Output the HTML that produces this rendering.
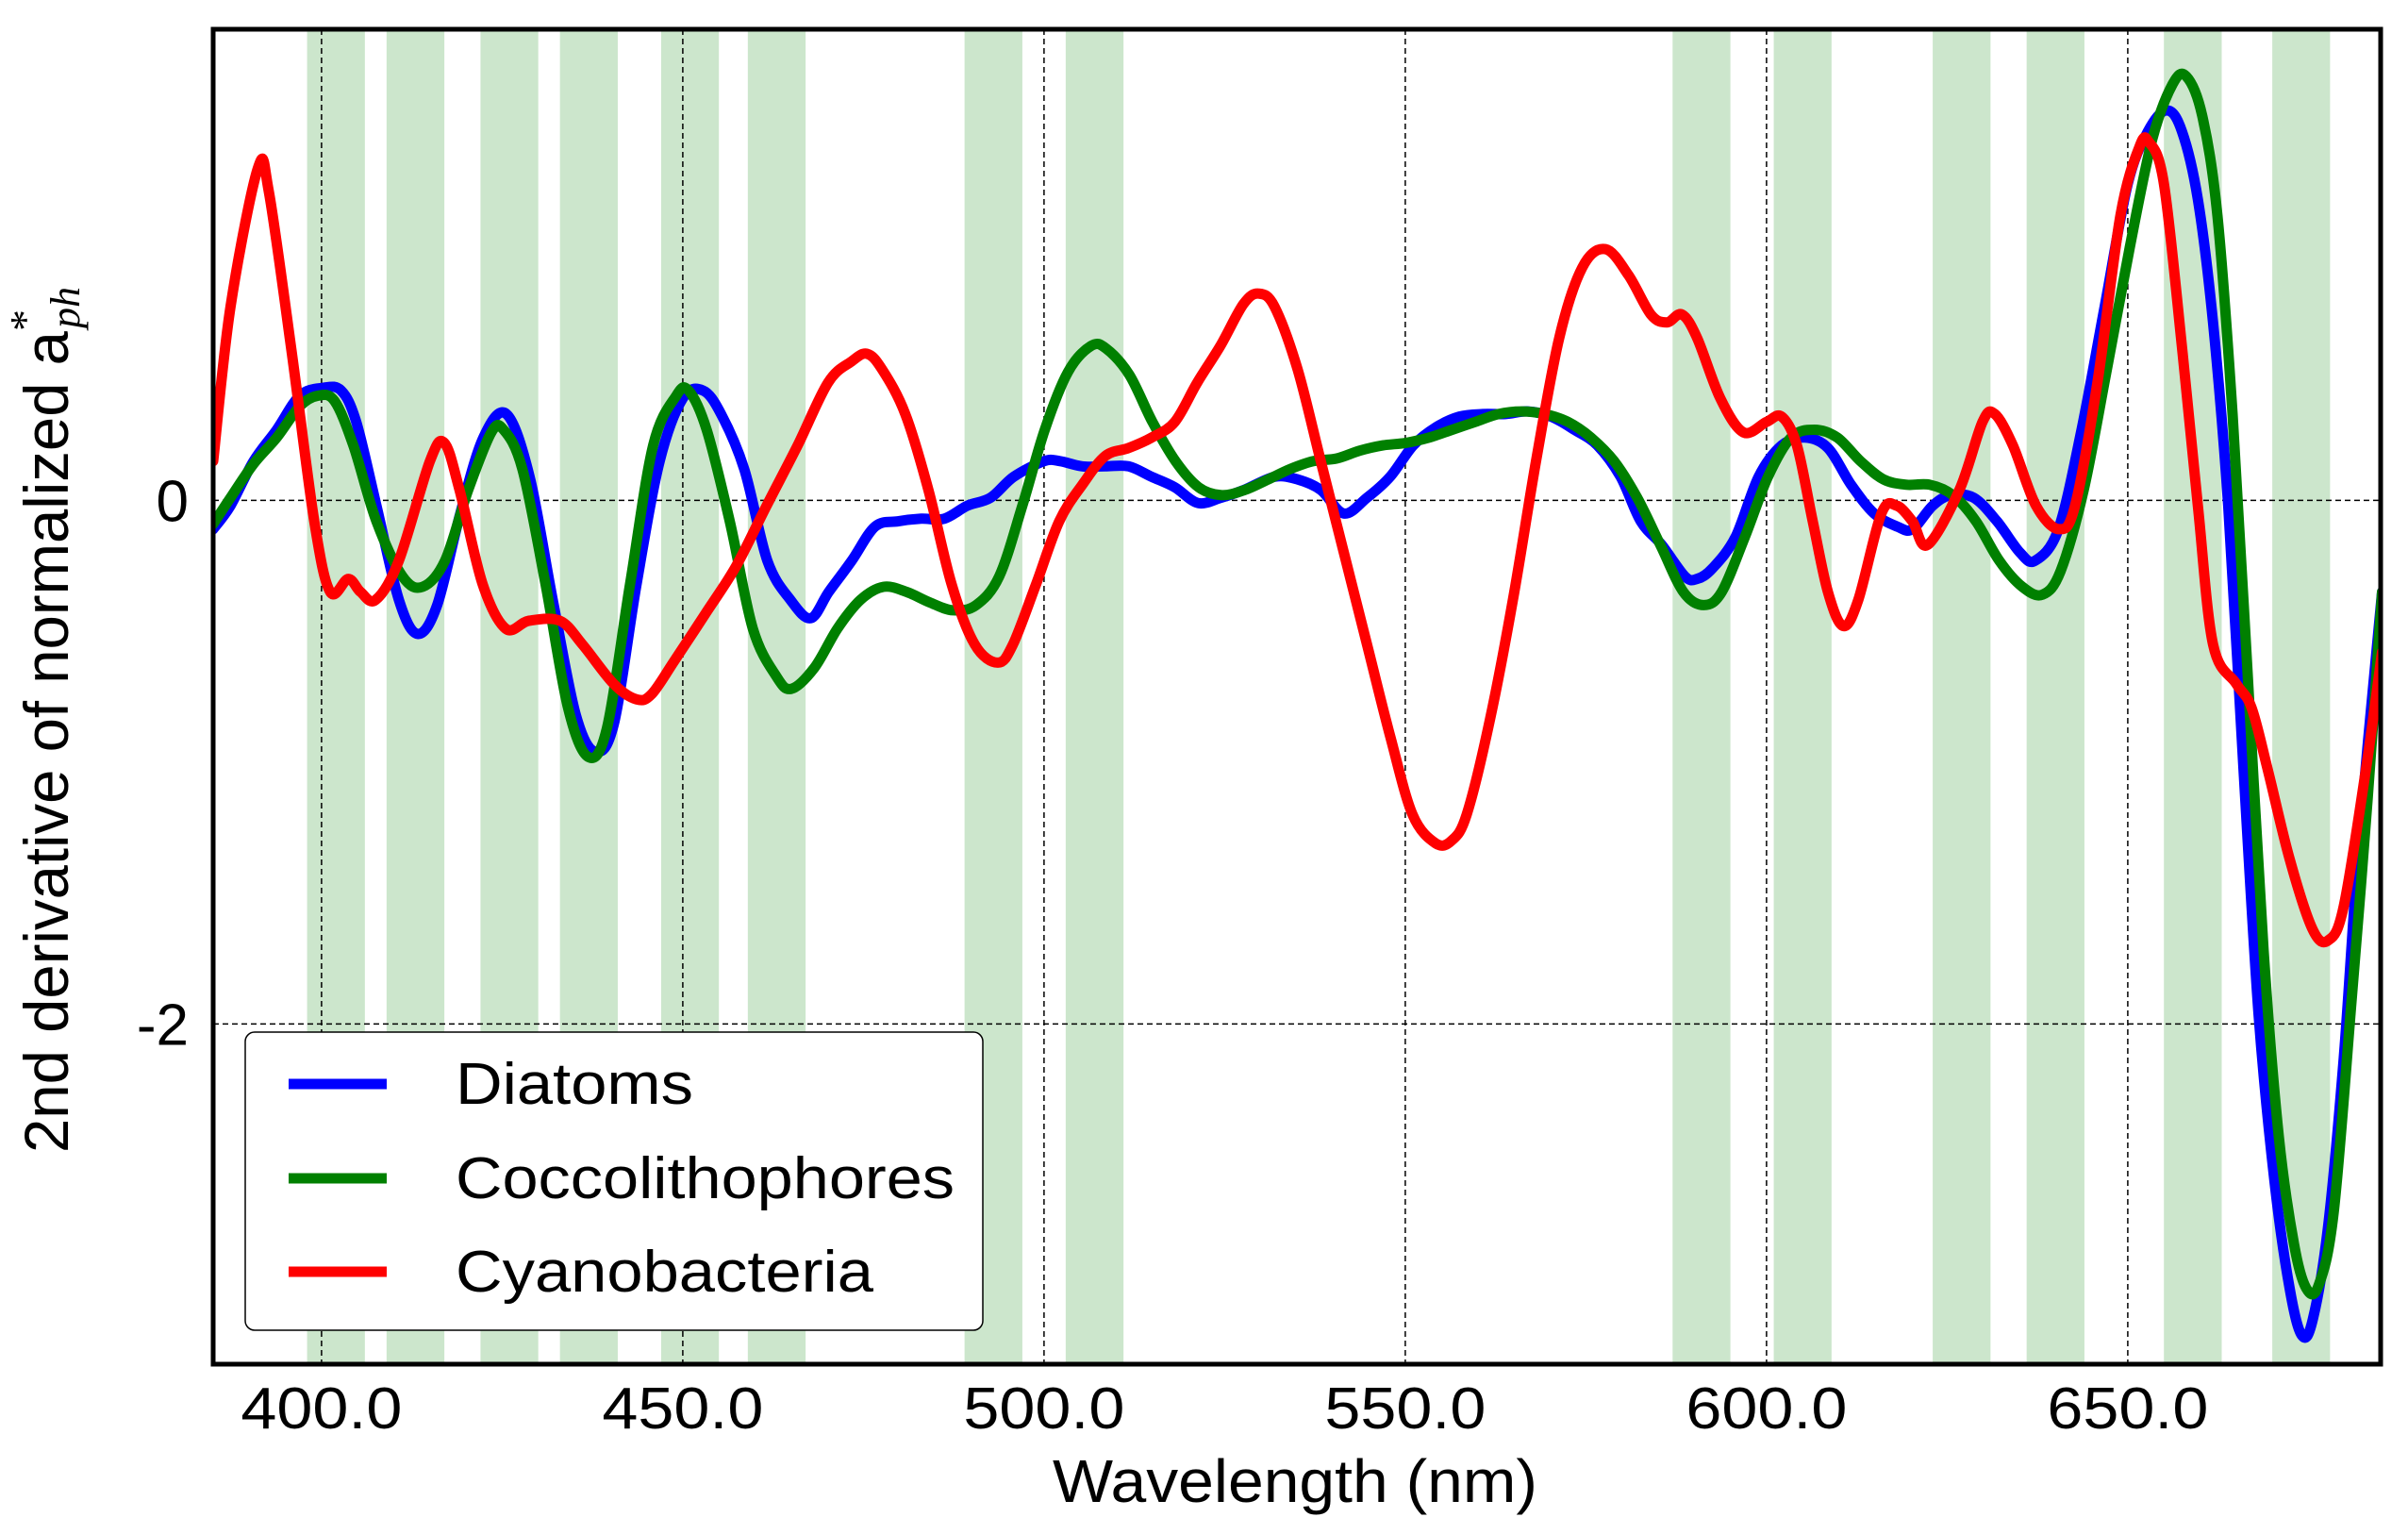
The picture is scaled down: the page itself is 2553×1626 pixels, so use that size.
<!DOCTYPE html>
<html><head><meta charset="utf-8"><style>
html,body{margin:0;padding:0;background:#fff;}
svg{display:block;font-family:"Liberation Sans",sans-serif;}
</style></head><body>
<svg id="chart" width="2553" height="1626" viewBox="0 0 2553 1626" xmlns="http://www.w3.org/2000/svg">
<defs><clipPath id="plotclip"><rect x="226" y="31" width="2298" height="1415"/></clipPath></defs>
<g id="bands" clip-path="url(#plotclip)"></g>
<g id="grid"></g>
<g id="lines" clip-path="url(#plotclip)"></g>
<rect x="226" y="31" width="2298" height="1415" fill="none" stroke="#000" stroke-width="5"/>
<g id="ticks"></g>
<text x="1373" y="1592" font-size="64" text-anchor="middle" textLength="514" lengthAdjust="spacingAndGlyphs">Wavelength (nm)</text>
<text transform="translate(72,1222) rotate(-90)" font-size="66"><tspan textLength="871" lengthAdjust="spacingAndGlyphs">2nd derivative of normalized a</tspan><tspan font-family="Liberation Serif,serif" font-size="46" dy="-30">*</tspan><tspan font-family="Liberation Serif,serif" font-style="italic" font-size="44" dy="42" dx="-20">ph</tspan></text>
<g>
<rect x="260" y="1094" width="782" height="316" rx="10" fill="#fff" stroke="#000" stroke-width="1.5"/>
<line x1="306" y1="1149" x2="410" y2="1149" stroke="#0000ff" stroke-width="11"/>
<text x="483" y="1170" font-size="62" textLength="252" lengthAdjust="spacingAndGlyphs">Diatoms</text>
<line x1="306" y1="1249" x2="410" y2="1249" stroke="#008000" stroke-width="11"/>
<text x="483" y="1270" font-size="62" textLength="529" lengthAdjust="spacingAndGlyphs">Coccolithophores</text>
<line x1="306" y1="1348" x2="410" y2="1348" stroke="#ff0000" stroke-width="11"/>
<text x="483" y="1369" font-size="62" textLength="443" lengthAdjust="spacingAndGlyphs">Cyanobacteria</text>
</g>
</svg>
<script>
const xTicks = [400, 450, 500, 550, 600, 650];
const xTickLabels = ["400.0", "450.0", "500.0", "550.0", "600.0", "650.0"];
const yTicks = [0, -2];
const yTickLabels = ["0", "-2"];
const bandStarts = [377, 398, 409, 422, 433, 447, 459, 489, 503, 587, 601, 623, 636, 655, 670];
const bandWidth = 8;
const redX = [385,387.4,391.2,392.7,395.9,399,401.2,403.7,405.4,407.5,410.7,415,417,419.1,422.3,425.5,428.7,433,436.1,440.4,443.6,445.7,448.9,453.2,457.4,461.6,465.9,470.1,473.3,475.5,477.6,480.8,484,487.2,490.4,493.6,495.7,498.9,502.1,505.3,508.5,511.7,514.9,518.1,521.2,524.4,527.6,529.7,531.9,535.1,538.3,541.5,544.7,547.9,551,554.2,556.4,558.5,561.7,564.9,568.1,571.3,574.5,577.7,580.9,584,586.2,588.3,590.4,593.6,596.8,600,602.1,604.2,606.4,608.5,610.6,612.7,615.9,618,620.2,622.3,626.7,629.9,631.6,634.1,637.3,640.5,642.7,645.8,649,651.6,652.9,655,657.6,659.7,661.8,665,667.1,669.3,672.4,675.6,677.8,679.9,683,685.2];
const redY = [0.15,0.74,1.27,1.18,0.56,-0.08,-0.35,-0.30,-0.35,-0.38,-0.23,0.15,0.22,0.04,-0.32,-0.49,-0.46,-0.46,-0.55,-0.70,-0.76,-0.74,-0.61,-0.43,-0.25,-0.02,0.21,0.45,0.53,0.56,0.50,0.33,0.04,-0.32,-0.55,-0.62,-0.55,-0.32,-0.08,0.06,0.17,0.20,0.24,0.30,0.45,0.59,0.75,0.79,0.74,0.50,0.15,-0.20,-0.55,-0.90,-1.20,-1.31,-1.30,-1.20,-0.84,-0.38,0.15,0.62,0.89,0.96,0.86,0.71,0.68,0.71,0.62,0.39,0.26,0.30,0.32,0.21,-0.08,-0.35,-0.48,-0.38,-0.05,-0.02,-0.08,-0.17,0.04,0.30,0.33,0.21,-0.02,-0.11,-0.02,0.45,1.09,1.35,1.37,1.21,0.56,-0.02,-0.55,-0.70,-0.79,-1.02,-1.37,-1.64,-1.68,-1.55,-1.02,-0.58];
const blueX = [385,387.4,390.6,393.8,397,400.2,402.7,404.8,407.6,410.7,413.3,416,419.2,422.4,425.6,428.8,432,435.2,437.9,440.5,443.6,446.8,450,452.8,455.3,458.5,461.7,464.9,467.7,470.2,473.4,476.6,479.8,483,486.2,489.4,492.6,495.8,500,502.2,505.3,508.5,511.7,514.9,518.1,521.3,524.5,527.7,531.9,535.1,538.3,541.5,544.7,547.9,551.1,554.3,557.5,560.7,563.9,567,570.2,573.4,576.6,579.8,582.6,585.5,588.7,590.4,592.5,595.7,598.9,602.1,605.3,608.5,611.7,614.9,618.1,620.2,623,625.5,628.7,631.9,635.1,637.2,640.4,643.6,646.8,650,652.8,655.4,657.5,659.7,661.8,663.9,666,668.1,670.3,672.4,674.1,675.6,677.7,679.9,682,685.2];
const blueY = [-0.11,-0.02,0.15,0.27,0.40,0.43,0.42,0.30,-0.02,-0.38,-0.51,-0.40,-0.05,0.24,0.33,0.09,-0.38,-0.82,-0.96,-0.85,-0.32,0.15,0.39,0.42,0.33,0.12,-0.23,-0.38,-0.45,-0.35,-0.23,-0.10,-0.08,-0.07,-0.07,-0.02,0.01,0.09,0.15,0.15,0.13,0.13,0.13,0.09,0.05,-0.01,0.01,0.04,0.09,0.08,0.04,-0.05,0.01,0.09,0.21,0.28,0.32,0.33,0.33,0.34,0.32,0.27,0.21,0.09,-0.08,-0.17,-0.29,-0.30,-0.26,-0.14,0.09,0.21,0.24,0.20,0.06,-0.05,-0.10,-0.11,-0.02,0.02,0.01,-0.08,-0.20,-0.23,-0.11,0.27,0.74,1.21,1.41,1.49,1.41,1.15,0.68,-0.02,-1.02,-1.96,-2.60,-3.01,-3.19,-3.13,-2.78,-2.13,-1.31,-0.35];
const greenX = [385,387.4,390.6,393.8,397,399.5,401.8,404.4,407.6,411.2,414,417.1,420.3,423.5,425.2,427.8,431,434.1,436.9,439.5,442.7,445.9,449.1,450.8,453.3,456.5,459.7,462.9,465,468.2,471.4,474.6,477.8,481,484.2,487.4,490.6,493.8,497,500.1,503.3,506.5,508.6,511.8,515,518.2,521.4,524.6,527.8,531,534.1,537.3,540.5,543.7,546.9,550.1,553.3,556.5,559.7,562.9,566.1,569.3,572.5,575.7,578.9,582.1,585.3,588.5,591.3,593.8,597,600.2,603.4,606.6,609.8,613,616.2,619.4,622.6,625.8,629,632.2,635.4,638.2,640.7,643.9,647.1,650.3,653.4,656.2,658.1,660.3,662.4,664.5,666.6,668.8,670.9,673,674.7,676.4,678.5,681,683.2,685.2];
const greenY = [-0.09,0.01,0.14,0.24,0.36,0.40,0.38,0.21,-0.08,-0.29,-0.33,-0.23,0.04,0.26,0.27,0.12,-0.32,-0.79,-0.98,-0.87,-0.32,0.21,0.40,0.42,0.27,-0.08,-0.49,-0.67,-0.72,-0.64,-0.49,-0.38,-0.33,-0.35,-0.39,-0.42,-0.40,-0.29,-0.02,0.27,0.49,0.59,0.58,0.48,0.30,0.15,0.05,0.02,0.04,0.08,0.12,0.15,0.16,0.19,0.21,0.22,0.24,0.27,0.30,0.33,0.34,0.33,0.30,0.24,0.15,0.01,-0.17,-0.35,-0.40,-0.35,-0.14,0.09,0.24,0.27,0.24,0.15,0.08,0.06,0.06,0.02,-0.08,-0.23,-0.33,-0.36,-0.27,0.04,0.50,0.97,1.38,1.59,1.62,1.47,1.09,0.33,-0.67,-1.72,-2.43,-2.84,-3.01,-3.00,-2.72,-1.90,-1.14,-0.35];

const NS = "http://www.w3.org/2000/svg";
const X0 = 226, X1 = 2524, Y0 = 31, Y1 = 1446;
const xMin = 385, xMax = 685, yMin = -3.3, yMax = 1.8;
function sx(v){ return X0 + (v - xMin) / (xMax - xMin) * (X1 - X0); }
function sy(v){ return Y1 - (v - yMin) / (yMax - yMin) * (Y1 - Y0); }
function mk(tag, attrs, parent){ const e = document.createElementNS(NS, tag); for (const k in attrs) e.setAttribute(k, attrs[k]); parent.appendChild(e); return e; }

const bands = document.getElementById('bands');
bandStarts.forEach(function(b){
  const r = mk('rect', {x: sx(b), y: Y0, width: sx(b + bandWidth) - sx(b), height: Y1 - Y0, fill: '#cce6cc'}, bands);
  
  
});
const grid = document.getElementById('grid');
const ticks = document.getElementById('ticks');
xTicks.forEach(function(t, i){
  const l = mk('line', {x1: sx(t), x2: sx(t), y1: Y0, y2: Y1, stroke: '#000', 'stroke-width': 1.5, 'stroke-dasharray': '6,4'}, grid);
  
  
  const tx = mk('text', {x: sx(t), y: 1514, 'font-size': 62, 'text-anchor': 'middle', textLength: 171, lengthAdjust: 'spacingAndGlyphs'}, ticks);
  tx.textContent = xTickLabels[i];
  
  
});
yTicks.forEach(function(t, i){
  const l = mk('line', {x1: X0, x2: X1, y1: sy(t), y2: sy(t), stroke: '#000', 'stroke-width': 1.5, 'stroke-dasharray': '6,4'}, grid);
  
  
  const tx = mk('text', {x: 200, y: sy(t) + 22, 'font-size': 62, 'text-anchor': 'end'}, ticks);
  tx.textContent = yTickLabels[i];
  
  
});
const lines = document.getElementById('lines');
function drawSeries(xs, ys, color, name){
  const P = xs.map(function(x, i){ return [sx(x), sy(ys[i])]; });
  let d = 'M' + P[0][0].toFixed(1) + ',' + P[0][1].toFixed(1);
  for (let i = 0; i < P.length - 1; i++) {
    const p0 = P[Math.max(i - 1, 0)], p1 = P[i], p2 = P[i + 1], p3 = P[Math.min(i + 2, P.length - 1)];
    const c1x = p1[0] + (p2[0] - p0[0]) / 6, c1y = p1[1] + (p2[1] - p0[1]) / 6;
    const c2x = p2[0] - (p3[0] - p1[0]) / 6, c2y = p2[1] - (p3[1] - p1[1]) / 6;
    d += 'C' + c1x.toFixed(1) + ',' + c1y.toFixed(1) + ' ' + c2x.toFixed(1) + ',' + c2y.toFixed(1) + ' ' + p2[0].toFixed(1) + ',' + p2[1].toFixed(1);
  }
  const p = mk('path', {d: d, fill: 'none', stroke: color, 'stroke-width': 11, 'stroke-linejoin': 'round', 'stroke-linecap': 'round'}, lines);
  
  
}
drawSeries(blueX, blueY, '#0000ff', 'diatoms-line');
drawSeries(greenX, greenY, '#008000', 'coccolithophores-line');
drawSeries(redX, redY, '#ff0000', 'cyanobacteria-line');
</script>
</body></html>
